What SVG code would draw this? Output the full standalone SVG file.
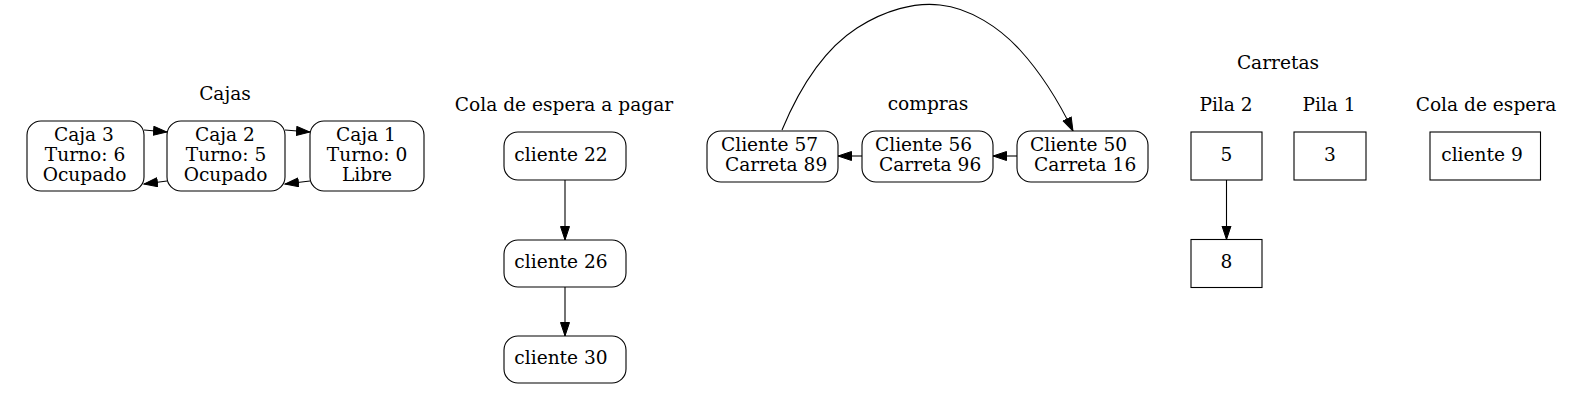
<svg xmlns="http://www.w3.org/2000/svg" width="1589" height="410" viewBox="0 0 1589 410">
<style>
text{font-family:"DejaVu Serif","Liberation Serif",serif;font-size:18.6px;fill:#000}
.m{text-anchor:middle}
.s{text-anchor:start}
.n{fill:#fff;stroke:#000;stroke-width:1.1}
.e{fill:none;stroke:#000;stroke-width:1.1;marker-end:url(#ah)}
</style>
<defs>
<marker id="ah" markerUnits="userSpaceOnUse" markerWidth="15" markerHeight="11" refX="14" refY="5" orient="auto">
<path d="M0.5,0.5 L14,5 L0.5,9.5 Z" fill="#000" stroke="#000" stroke-width="1"/>
</marker>
</defs>
<rect width="1589" height="410" fill="#fff"/>
<g id="labels">
<text class="m" x="225" y="100">Cajas</text>
<text class="m" x="564" y="111">Cola de espera a pagar</text>
<text class="m" x="928" y="110">compras</text>
<text class="m" x="1278" y="69">Carretas</text>
<text class="m" x="1226" y="111">Pila 2</text>
<text class="m" x="1329" y="111">Pila 1</text>
<text class="m" x="1486" y="111">Cola de espera</text>
</g>
<g id="connectors">
<path class="e" d="M144,130 L167,132"/>
<path class="e" d="M167,181 L144,184"/>
<path class="e" d="M285,130 L310,132"/>
<path class="e" d="M310,181 L285,184"/>
<path class="e" d="M565,180 L565,240"/>
<path class="e" d="M565,287 L565,336"/>
<path class="e" d="M862,156 L838,156"/>
<path class="e" d="M1017,156 L993,156"/>
<path class="e" d="M782,130 C802,82 826,48 857,28 C885,10 915,2 940,5 C970,8 1000,28 1020,50 C1040,72 1058,100 1073,131"/>
<path class="e" d="M1226.5,180 L1226.5,239.5"/>
</g>
<g id="caja3"><rect class="n" x="27" y="121" width="117" height="70" rx="14"/>
<text class="m" x="84" y="141">Caja 3</text><text class="m" x="85" y="161">Turno: 6</text><text class="m" x="84.5" y="181">Ocupado</text></g>
<g id="caja2"><rect class="n" x="167" y="121" width="118" height="70" rx="14"/>
<text class="m" x="225" y="141">Caja 2</text><text class="m" x="226" y="161">Turno: 5</text><text class="m" x="225.5" y="181">Ocupado</text></g>
<g id="caja1"><rect class="n" x="310" y="121" width="114" height="70" rx="14"/>
<text class="m" x="366" y="141">Caja 1</text><text class="m" x="367" y="161">Turno: 0</text><text class="m" x="367" y="181">Libre</text></g>
<g id="cliente22"><rect class="n" x="504" y="132" width="122" height="48" rx="14"/><text class="m" x="561" y="161">cliente 22</text></g>
<g id="cliente26"><rect class="n" x="504" y="240" width="122" height="47" rx="14"/><text class="m" x="561" y="268">cliente 26</text></g>
<g id="cliente30"><rect class="n" x="504" y="336" width="122" height="47" rx="14"/><text class="m" x="561" y="364">cliente 30</text></g>
<g id="c57"><rect class="n" x="707" y="131" width="131" height="51" rx="14"/>
<text class="s" x="721" y="151">Cliente 57</text><text class="s" x="725" y="171">Carreta 89</text></g>
<g id="c56"><rect class="n" x="862" y="131" width="131" height="51" rx="14"/>
<text class="s" x="875" y="151">Cliente 56</text><text class="s" x="879" y="171">Carreta 96</text></g>
<g id="c50"><rect class="n" x="1017" y="131" width="131" height="51" rx="14"/>
<text class="s" x="1030" y="151">Cliente 50</text><text class="s" x="1034" y="171">Carreta 16</text></g>
<g id="p5"><rect class="n" x="1191" y="132" width="71" height="48"/><text class="m" x="1226.5" y="161">5</text></g>
<g id="p8"><rect class="n" x="1191" y="239.5" width="71" height="48"/><text class="m" x="1226.5" y="268">8</text></g>
<g id="p3"><rect class="n" x="1294" y="132" width="72" height="48"/><text class="m" x="1330" y="161">3</text></g>
<g id="cl9"><rect class="n" x="1430" y="132" width="110.5" height="48"/><text class="m" x="1482" y="161">cliente 9</text></g>
</svg>
